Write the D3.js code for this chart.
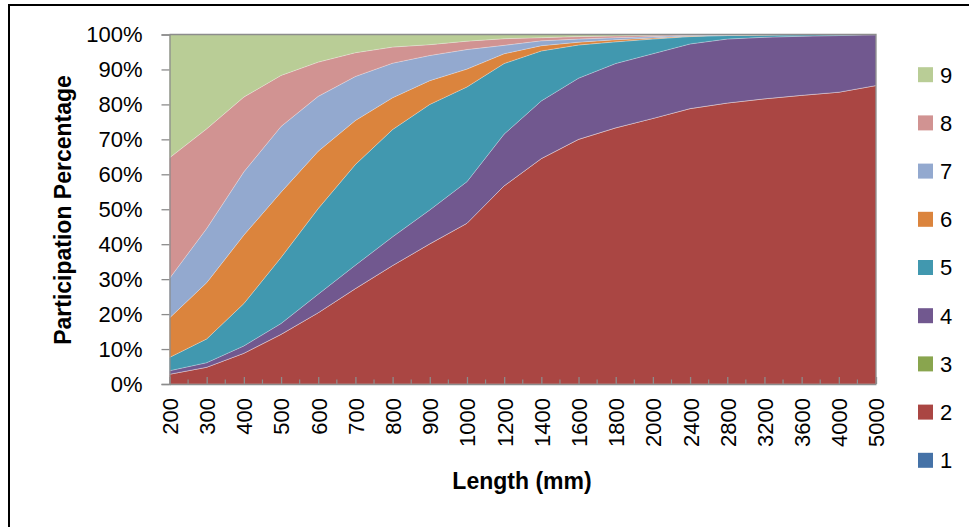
<!DOCTYPE html>
<html>
<head>
<meta charset="utf-8">
<script src="https://cdn.jsdelivr.net/npm/d3@7/dist/d3.min.js"></script>
<style>
  html, body { margin: 0; padding: 0; background: #fff; }
  svg { display: block; }
  text { font-family: "Liberation Sans", Arial, sans-serif; fill: #000; }
</style>
</head>
<body>
<svg id="chart" width="969" height="527"></svg>
<script>
// ---- Data (percent share of each series per length category) ----
const categories = ["200","300","400","500","600","700","800","900","1000","1200","1400","1600","1800","2000","2400","2800","3200","3600","4000","5000"];
const seriesNames = ["1","2","3","4","5","6","7","8","9"];
const s1 = [0,0,0,0,0,0,0,0,0,0,0,0,0,0,0,0,0,0,0,0];
const s2 = [2.8,4.8,8.8,14.2,20.4,27.3,33.9,40.1,46.0,56.7,64.5,70.0,73.3,76.0,78.8,80.4,81.6,82.6,83.5,85.4];
const s3 = [0,0,0,0,0,0,0,0,0,0,0,0,0,0,0,0,0,0,0,0];
const s4 = [1.0,1.3,2.1,3.1,5.3,6.7,8.2,9.7,11.9,14.8,16.5,17.5,18.4,18.5,18.5,18.3,17.6,16.9,16.2,14.5];
const s5 = [3.8,6.8,12.1,18.9,24.5,28.8,30.7,30.2,27.1,20.2,14.3,9.5,6.2,4.2,2.1,1.0,0.6,0.4,0.3,0.1];
const s6 = [11.3,16.1,19.6,18.7,16.4,12.6,9.1,6.8,5.1,2.8,1.5,0.8,0.6,0.3,0.2,0.1,0.1,0.1,0,0];
const s7 = [11.3,15.5,18.1,18.8,15.7,12.6,9.9,7.2,5.6,2.4,1.4,0.9,0.6,0.4,0.2,0.1,0.1,0,0,0];
const s8 = [34.5,28.5,21.4,14.6,9.8,6.8,4.6,3.1,2.4,1.9,0.9,0.7,0.5,0.4,0.1,0.1,0,0,0,0];
const s9 = [35.3,27.0,17.9,11.7,7.9,5.2,3.6,2.9,1.9,1.2,0.9,0.6,0.4,0.2,0.1,0,0,0,0,0];
const yTicks = [0,0.1,0.2,0.3,0.4,0.5,0.6,0.7,0.8,0.9,1.0];
const colors = ["#4572A7","#AA4643","#89A54E","#71588F","#4198AF","#DB843D","#93A9CF","#D19392","#B9CD96"];

const allSeries = [s1,s2,s3,s4,s5,s6,s7,s8,s9];
const table = categories.map((c, i) => {
  const row = { cat: c };
  seriesNames.forEach((n, k) => row[n] = allSeries[k][i]);
  return row;
});

const svg = d3.select("#chart");
const L = 169.5, R = 876, T = 34.5, B = 384;

const x = d3.scalePoint().domain(categories).range([L, R]).padding(0);
const y = d3.scaleLinear().domain([0, 1]).range([B, T]);

const stack = d3.stack().keys(seriesNames).offset(d3.stackOffsetExpand);
const layers = stack(table);

const area = d3.area()
  .x(d => x(d.data.cat))
  .y0(d => y(d[0]))
  .y1(d => y(d[1]));

// outer frame (left + top lines)
svg.append("line").attr("x1", 9).attr("x2", 9).attr("y1", 5).attr("y2", 527)
  .attr("stroke", "#000").attr("stroke-width", 2);
svg.append("line").attr("x1", 8).attr("x2", 969).attr("y1", 5).attr("y2", 5)
  .attr("stroke", "#000").attr("stroke-width", 2);

// areas
svg.append("g").selectAll("path").data(layers).join("path")
  .attr("d", area)
  .attr("fill", (d, i) => colors[i])
  .attr("stroke", "rgba(255,255,255,0.35)")
  .attr("stroke-width", 0.7);

// plot border (top/right)
svg.append("path")
  .attr("d", `M${L},${T}H${R}V${B}`)
  .attr("fill", "none").attr("stroke", "#8c8c8c").attr("stroke-width", 1.3);

// Y axis
const yAxis = d3.axisLeft(y).tickValues(yTicks).tickFormat(d3.format(".0%"))
  .tickSize(8).tickPadding(19);
const gy = svg.append("g").attr("transform", `translate(${L},0)`).call(yAxis);
gy.select(".domain").attr("stroke", "#8c8c8c").attr("stroke-width", 1.3);
gy.selectAll(".tick line").attr("stroke", "#8c8c8c").attr("stroke-width", 1.3);
gy.selectAll(".tick text").attr("font-size", 22)
  .attr("font-family", "Liberation Sans, Arial, sans-serif").attr("fill", "#000");

// X axis
const xAxis = d3.axisBottom(x).tickSize(-7).tickSizeOuter(0).tickPadding(0);
const gx = svg.append("g").attr("transform", `translate(0,${B})`).call(xAxis);
gx.select(".domain").attr("stroke", "#8c8c8c").attr("stroke-width", 1.6);
gx.selectAll(".tick line").attr("stroke", "#8c8c8c").attr("stroke-width", 1.3);
gx.selectAll(".tick text")
  .attr("font-size", 22)
  .attr("font-family", "Liberation Sans, Arial, sans-serif")
  .attr("fill", "#000")
  .attr("transform", "rotate(-90)")
  .attr("text-anchor", "end")
  .attr("x", -14).attr("y", 0).attr("dy", "0.36em");

// minor ticks between categories
const mids = categories.slice(1).map((c, i) => (x(categories[i]) + x(c)) / 2);
svg.append("g").selectAll("line").data(mids).join("line")
  .attr("x1", d => d).attr("x2", d => d)
  .attr("y1", B).attr("y2", B - 4.5)
  .attr("stroke", "#8c8c8c").attr("stroke-width", 1.2);

// axis titles
svg.append("text")
  .attr("transform", "translate(63,210) rotate(-90)")
  .attr("text-anchor", "middle").attr("dy", "0.35em")
  .attr("font-size", 23).attr("font-weight", "bold")
  .text("Participation Percentage");

svg.append("text")
  .attr("x", 522).attr("y", 489)
  .attr("text-anchor", "middle")
  .attr("font-size", 23).attr("font-weight", "bold")
  .text("Length (mm)");

// legend (9 at top down to 1)
const legendOrder = seriesNames.slice().reverse();
const lg = svg.append("g").selectAll("g").data(legendOrder).join("g")
  .attr("transform", (d, i) => `translate(918,${74.7 + i * 48.2})`);
lg.append("rect").attr("x", 0).attr("y", -7.5).attr("width", 15).attr("height", 15)
  .attr("fill", d => colors[seriesNames.indexOf(d)]);
lg.append("text").attr("x", 22).attr("y", 0).attr("dy", "0.36em")
  .attr("font-size", 22).text(d => d);
</script>
</body>
</html>
